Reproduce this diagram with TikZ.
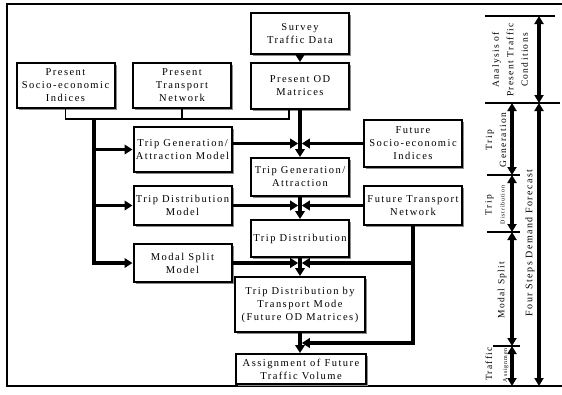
\documentclass[tikz,border=0pt]{standalone}
\usepackage{fontspec}
\setmainfont{Liberation Serif}[LetterSpace=14]
\usetikzlibrary{arrows.meta, shadows, calc}

\newcommand{\boxfont}{\fontsize{10.5}{13}\selectfont}
\newcommand{\sidefont}{\fontsize{9.5}{14}\selectfont}
\newcommand{\smallside}{\fontsize{6}{7}\selectfont}

\tikzset{
  box/.style={draw, line width=2pt, fill=white, align=center, inner sep=1pt,
    minimum width=98pt, font=\boxfont,
    drop shadow={shadow xshift=2.2pt, shadow yshift=-2.2pt, fill=black!45, opacity=1}},
  feed/.style={line width=1.5pt},
  trunk/.style={line width=3.6pt},
  flow/.style={trunk, -{Triangle[length=8pt,width=9.5pt]}},
  span/.style={trunk, {Triangle[length=8pt,width=9pt]}-{Triangle[length=8pt,width=9pt]}},
  tick/.style={line width=1.4pt},
  side/.style={rotate=90, align=center, inner sep=0pt, font=\sidefont}
}

\begin{document}
\begin{tikzpicture}[x=1pt, y=-1pt]
  \useasboundingbox (0,0) rectangle (562,394);

  %% frame
  \draw[line width=2pt] (562,4) -- (7,4) -- (7,386) -- (562,386);

  %% present situation
  \node[box, minimum height=41pt] (survey) at (300,33.5) {Survey\\Traffic Data};
  \node[box, minimum height=46pt] (presod) at (300,86) {Present OD\\Matrices};
  \node[box, minimum height=45pt] (presse) at (65.5,85.5) {Present\\Socio-economic\\Indices};
  \node[box, minimum height=45pt] (prestn) at (182,85.5) {Present\\Transport\\Network};

  %% models
  \node[box, minimum height=45pt] (genmodel) at (182.5,149.5) {Trip Generation/\\Attraction Model};
  \node[box, minimum height=39pt] (distmodel) at (182.5,205.5) {Trip Distribution\\Model};
  \node[box, minimum height=38pt] (splitmodel) at (182.5,263) {Modal Split\\Model};

  %% future inputs
  \node[box, minimum height=47pt] (futse) at (413,143.5) {Future\\Socio-economic\\Indices};
  \node[box, minimum height=39pt] (futtn) at (413,205.5) {Future Transport\\Network};

  %% forecast steps
  \node[box, minimum height=38pt] (genattr) at (300,177) {Trip Generation/\\Attraction};
  \node[box, minimum height=37pt] (tripdist) at (300,238.5) {Trip Distribution};
  \node[box, minimum height=55pt, minimum width=130pt] (distmode) at (300,304.5)
    {Trip Distribution by\\Transport Mode\\(Future OD Matrices)};
  \node[box, minimum height=30pt, minimum width=130pt] (assign) at (301,369)
    {Assignment of Future\\Traffic Volume};

  %% junctions
  \coordinate (fb) at (0,119);
  \coordinate (lb) at (94,119);
  \coordinate (j1) at (presod.south |- futse.west);
  \coordinate (j2) at (genattr.south |- futtn.west);
  \coordinate (j3) at (tripdist.south |- splitmodel.east);
  \coordinate (j4) at ($(distmode.south)!0.5!(distmode.south |- assign.north)$);

  %% present data feed
  \draw[feed] (presse.south) |- ([xshift=-11pt]presod.south |- fb) -- ([xshift=-11pt]presod.south);
  \draw[feed] (prestn.south) -- (prestn.south |- fb);
  \draw[flow] (survey) -- (presod);

  %% left trunk into the models
  \draw[flow] (lb) |- (splitmodel.west);
  \draw[flow] (lb |- genmodel.west) -- (genmodel.west);
  \draw[flow] (lb |- distmodel.west) -- (distmodel.west);

  %% trip generation
  \draw[flow] (presod.south) -- (genattr.north);
  \draw[flow] (genmodel.east |- j1) -- ([xshift=-1.8pt]j1);
  \draw[flow] (futse.west) -- ([xshift=1.8pt]j1);

  %% trip distribution
  \draw[flow] (genattr.south) -- (tripdist.north);
  \draw[flow] (distmodel.east |- j2) -- ([xshift=-1.8pt]j2);
  \draw[flow] (futtn.west) -- ([xshift=1.8pt]j2);

  %% modal split
  \draw[flow] (tripdist.south) -- (distmode.north);
  \draw[flow] (splitmodel.east) -- ([xshift=-1.8pt]j3);
  \draw[flow] ([xshift=1.8pt]futtn.south |- j3) -- ([xshift=1.8pt]j3);

  %% assignment
  \draw[flow] (distmode.south) -- (distmode.south |- assign.north);
  \draw[flow] (futtn.south) |- ([xshift=1.8pt]j4);

  %% step scale
  \foreach \y/\xa/\xb in {16/485/555, 103/485/560, 175/487/520, 232/487/520, 346/493/520}
    \draw[tick] (\xa,\y) -- (\xb,\y);
  \foreach \ya/\yb in {103/175, 175/232, 232/346, 346/386}
    \draw[span] (512,\ya) -- (512,\yb);
  \foreach \ya/\yb in {16/103, 103/386}
    \draw[span] (539,\ya) -- (539,\yb);

  \node[side, font=\fontsize{9.5}{14.5}\selectfont] (analysis) at (510,60)
    {Analysis of\\Present Traffic\\Conditions};
  \node[side] (genlabel) at (496,140) {Trip\\Generation};
  \node[side, font=\fontsize{9.5}{13}\selectfont] (distlabel) at (495,205)
    {Trip\\{\smallside Distribution}};
  \node[side] (splitlabel) at (502,290) {Modal Split};
  \node[side, font=\fontsize{9.5}{15}\selectfont] (assignlabel) at (497,364)
    {Traffic\\{\smallside Assignment}};
  \node[side, font=\fontsize{10}{12}\selectfont] (fourlabel) at (530,243)
    {Four Steps Demand Forecast};

\end{tikzpicture}
\end{document}
